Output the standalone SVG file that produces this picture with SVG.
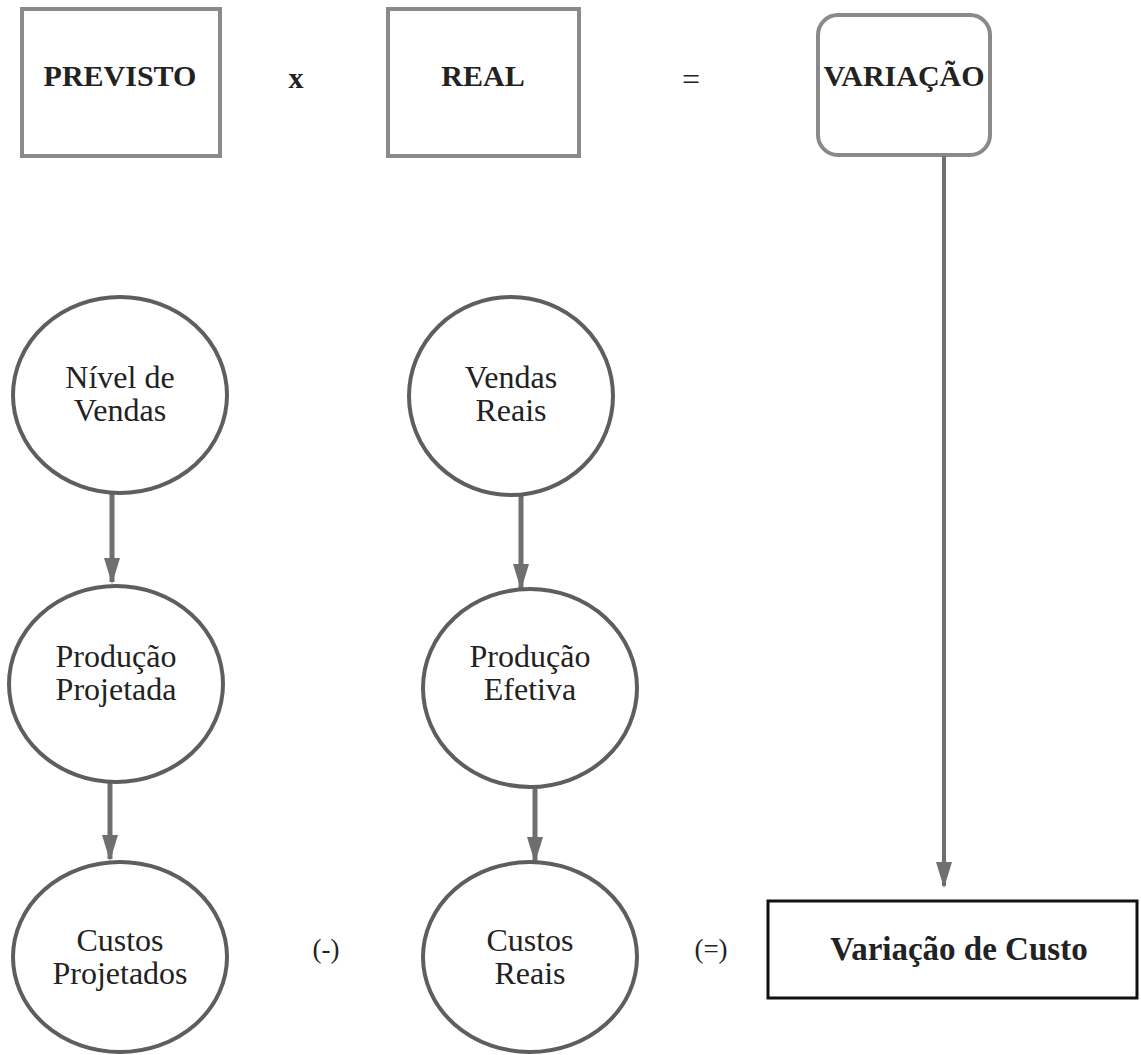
<svg xmlns="http://www.w3.org/2000/svg" width="1141" height="1055" viewBox="0 0 1141 1055">
  <defs>
    <marker id="head" markerWidth="26" markerHeight="16" refX="24" refY="8" orient="auto" markerUnits="userSpaceOnUse">
      <path d="M0,0 L26,8 L0,16 Z" fill="#6f6f6f"/>
    </marker>
    <style>
      .box { fill: #fff; stroke: #8a8a8a; stroke-width: 4; }
      .node { fill: #fff; stroke: #5e5e5e; stroke-width: 4; }
      .result { fill: #fff; stroke: #111; stroke-width: 3; }
      .title { font-family: "Liberation Serif", "Times New Roman", serif; font-weight: bold; font-size: 30px; fill: #222; text-anchor: middle; }
      .label { font-family: "Liberation Serif", "Times New Roman", serif; font-size: 32px; fill: #222; text-anchor: middle; }
      .op { font-family: "Liberation Serif", "Times New Roman", serif; font-size: 27px; fill: #222; text-anchor: middle; }
      .link { stroke: #6f6f6f; stroke-width: 5; fill: none; marker-end: url(#head); }
    </style>
  </defs>

  <!-- header row -->
  <g id="previsto">
    <rect class="box" x="22" y="9" width="198" height="147"/>
    <text class="title" x="120" y="86">PREVISTO</text>
  </g>
  <text class="op" x="296" y="88" style="font-weight:bold;font-size:30px">x</text>
  <g id="real">
    <rect class="box" x="388" y="9" width="191" height="147"/>
    <text class="title" x="483" y="86">REAL</text>
  </g>
  <text class="op" x="691" y="90" style="font-size:32px">=</text>
  <g id="variacao">
    <rect class="box" x="818" y="15" width="172" height="140" rx="20" ry="20"/>
    <text class="title" x="904" y="86">VARIAÇÃO</text>
  </g>

  <!-- connectors -->
  <g id="connectors">
    <line class="link" x1="112" y1="494" x2="112" y2="582"/>
    <line class="link" x1="110" y1="782" x2="110" y2="859"/>
    <line class="link" x1="521" y1="496" x2="521" y2="588"/>
    <line class="link" x1="535" y1="788" x2="535" y2="861"/>
    <line class="link" x1="944" y1="156" x2="944" y2="886" style="stroke-width:4px"/>
  </g>

  <!-- planned column -->
  <g id="nivel-vendas">
    <ellipse class="node" cx="120" cy="395" rx="107" ry="98"/>
    <text class="label" x="120" y="388">Nível de</text>
    <text class="label" x="120" y="421">Vendas</text>
  </g>
  <g id="producao-projetada">
    <ellipse class="node" cx="116" cy="684" rx="107" ry="98"/>
    <text class="label" x="116" y="667">Produção</text>
    <text class="label" x="116" y="700">Projetada</text>
  </g>
  <g id="custos-projetados">
    <ellipse class="node" cx="120" cy="957" rx="107" ry="95"/>
    <text class="label" x="120" y="951">Custos</text>
    <text class="label" x="120" y="984">Projetados</text>
  </g>

  <text class="op" x="326" y="958">(-)</text>

  <!-- actual column -->
  <g id="vendas-reais">
    <ellipse class="node" cx="511" cy="396" rx="102" ry="99"/>
    <text class="label" x="511" y="388">Vendas</text>
    <text class="label" x="511" y="421">Reais</text>
  </g>
  <g id="producao-efetiva">
    <ellipse class="node" cx="530" cy="688" rx="107" ry="99"/>
    <text class="label" x="530" y="667">Produção</text>
    <text class="label" x="530" y="700">Efetiva</text>
  </g>
  <g id="custos-reais">
    <ellipse class="node" cx="530" cy="957" rx="107" ry="95"/>
    <text class="label" x="530" y="951">Custos</text>
    <text class="label" x="530" y="984">Reais</text>
  </g>

  <text class="op" x="711" y="958">(=)</text>

  <g id="variacao-custo">
    <rect class="result" x="768" y="901" width="369" height="97"/>
    <text class="title" x="959" y="960" style="font-size:33px">Variação de Custo</text>
  </g>
</svg>
